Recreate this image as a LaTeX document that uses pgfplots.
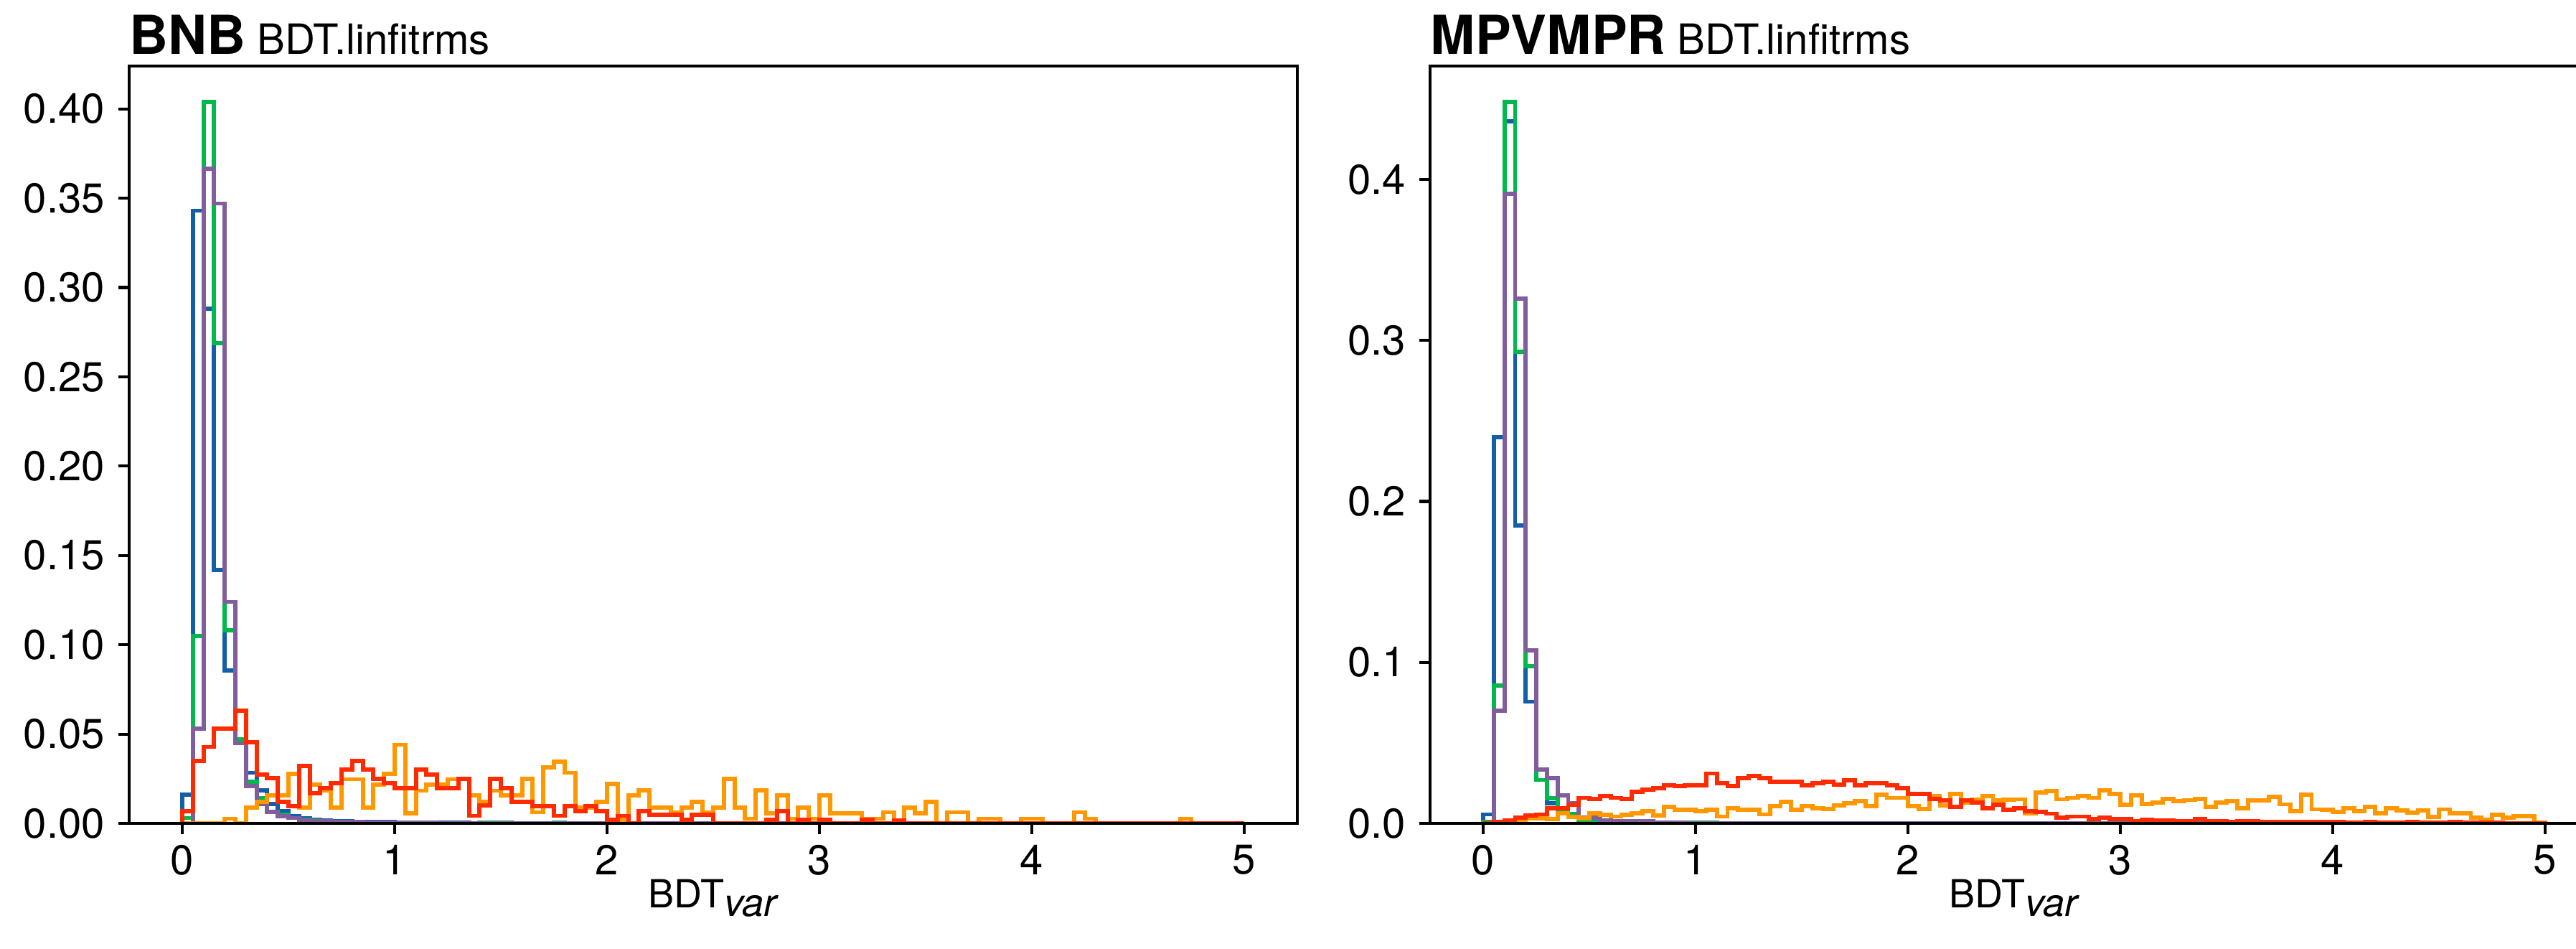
\documentclass[border=0pt]{standalone}
\usepackage{fontspec}
\setmainfont{TeX Gyre Heros}
\usepackage{pgfplots}
\usepackage{pgfplotstable}
\pgfplotsset{compat=1.18}

\definecolor{hBlue}{RGB}{18,95,168}
\definecolor{hGreen}{RGB}{0,184,76}
\definecolor{hPurple}{RGB}{128,94,155}
\definecolor{hOrange}{RGB}{255,152,0}
\definecolor{hRed}{RGB}{255,43,0}

% bin left edge, then normalised counts: b g p o r
\pgfplotstableread{
x b g p o r
0.00 0 0 0 0 0
0.00 0.016 0.003 0 0 0.0068
0.05 0.343 0.105 0.053 0 0.0348
0.10 0.288 0.404 0.3665 0 0.0428
0.15 0.142 0.269 0.347 0 0.0532
0.20 0.0857 0.108 0.124 0.0026 0.0532
0.25 0.047 0.047 0.0448 0 0.063
0.30 0.0283 0.0234 0.021 0.0089 0.0454
0.35 0.0185 0.0142 0.011 0.0122 0.0274
0.40 0.0109 0.0062 0.0065 0.0156 0.0252
0.45 0.0068 0.0048 0.004 0.0156 0.0121
0.50 0.0042 0.003 0.003 0.0277 0.0098
0.55 0.003 0.002 0.0018 0.0089 0.0323
0.60 0.0022 0.0015 0.0014 0.0216 0.0169
0.65 0.0018 0.0012 0.0012 0.0183 0.0196
0.70 0.0014 0.001 0.001 0.0089 0.0226
0.75 0.0012 0.0008 0.0008 0.0247 0.0303
0.80 0.001 0.0007 0.0007 0.0247 0.0348
0.85 0.0009 0.0006 0.0006 0.0089 0.0303
0.90 0.0008 0.0005 0.0005 0.0216 0.025
0.95 0.0007 0.0005 0.0005 0.0277 0.0226
1.00 0.0006 0.0004 0.0004 0.044 0.0196
1.05 0.0005 0.0004 0.0004 0.0055 0.0196
1.10 0.0005 0.0003 0.0003 0.0183 0.030
1.15 0.0004 0.0003 0.0003 0.0216 0.0274
1.20 0.0004 0.0002 0.0002 0.0216 0.0196
1.25 0.0003 0.0002 0.0002 0.0247 0.0196
1.30 0.0003 0.0002 0.0002 0.0247 0.025
1.35 0.0002 0.0002 0.0002 0.0156 0.0042
1.40 0.0002 0.0005 0.0002 0.0122 0.0102
1.45 0.0002 0.0005 0.0001 0.0183 0.025
1.50 0.0001 0.0005 0.0001 0.0156 0.0196
1.55 0.0001 0.0001 0.0001 0.0156 0.0121
1.60 0.0001 0.0001 0.0001 0.025 0.0121
1.65 0.0001 0.0001 0.0001 0.0062 0.0095
1.70 0.0001 0.0001 0 0.0314 0.0095
1.75 0.0001 0.0006 0 0.0346 0.0042
1.80 0.0001 0 0 0.0283 0.0095
1.85 0 0 0 0.0089 0.0068
1.90 0 0 0 0.0089 0.0095
1.95 0 0 0 0.0122 0.0068
2.00 0 0 0 0.022 0.002
2.05 0 0 0 0.002 0.0042
2.10 0 0 0 0.0156 0
2.15 0 0 0 0.0185 0.0068
2.20 0 0 0 0.0089 0.0048
2.25 0 0 0 0.0089 0.0048
2.30 0 0 0 0.0062 0.0048
2.35 0 0 0 0.0089 0.002
2.40 0 0 0 0.0122 0.0048
2.45 0 0 0 0.0062 0.0048
2.50 0 0 0 0.0089 0
2.55 0 0 0 0.025 0
2.60 0 0 0 0.0089 0
2.65 0 0 0 0.0026 0
2.70 0 0 0 0.0185 0
2.75 0 0 0 0.0055 0.002
2.80 0 0 0 0.0156 0.0068
2.85 0 0 0 0.0026 0
2.90 0 0 0 0.0089 0.002
2.95 0 0 0 0.0026 0
3.00 0 0 0 0.0156 0.002
3.05 0 0 0 0.0055 0
3.10 0 0 0 0.0055 0
3.15 0 0 0 0.0055 0
3.20 0 0 0 0.0026 0.002
3.25 0 0 0 0.0026 0
3.30 0 0 0 0.0062 0
3.35 0 0 0 0.0015 0.0015
3.40 0 0 0 0.0089 0
3.45 0 0 0 0.0055 0
3.50 0 0 0 0.0122 0
3.55 0 0 0 0 0
3.60 0 0 0 0.0062 0
3.65 0 0 0 0.0062 0
3.70 0 0 0 0 0
3.75 0 0 0 0.0026 0
3.80 0 0 0 0.0026 0
3.85 0 0 0 0 0
3.90 0 0 0 0 0
3.95 0 0 0 0.0026 0
4.00 0 0 0 0.0026 0
4.05 0 0 0 0 0
4.10 0 0 0 0 0
4.15 0 0 0 0 0
4.20 0 0 0 0.0062 0
4.25 0 0 0 0.0026 0
4.30 0 0 0 0 0
4.35 0 0 0 0 0
4.40 0 0 0 0 0
4.45 0 0 0 0 0
4.50 0 0 0 0 0
4.55 0 0 0 0 0
4.60 0 0 0 0 0
4.65 0 0 0 0 0
4.70 0 0 0 0.0026 0
4.75 0 0 0 0 0
4.80 0 0 0 0 0
4.85 0 0 0 0 0
4.90 0 0 0 0 0
4.95 0 0 0 0 0
5.00 0 0 0 0 0
}\tabBNB

\pgfplotstableread{
x b g p o r
0.00 0 0 0 0 0
0.00 0.0056 0.001 0 0 0
0.05 0.24 0.0856 0.07 0.0003 0.0008
0.10 0.436 0.448 0.391 0.0006 0.002
0.15 0.185 0.293 0.326 0.001 0.0034
0.20 0.0756 0.0975 0.1075 0.003 0.005
0.25 0.027 0.027 0.0336 0.003 0.0056
0.30 0.0125 0.0155 0.028 0.0027 0.0094
0.35 0.008 0.009 0.0175 0.0064 0.0094
0.40 0.005 0.006 0.0123 0.0039 0.0116
0.45 0.0025 0.002 0.0034 0.003 0.0158
0.50 0.0018 0.0015 0.0034 0.0064 0.0153
0.55 0.0014 0.0012 0.002 0.0052 0.0168
0.60 0.0011 0.001 0.0015 0.0042 0.0158
0.65 0.0009 0.0009 0.0015 0.0053 0.0153
0.70 0.0007 0.0008 0.0014 0.0064 0.0198
0.75 0.0006 0.0007 0.0013 0.0074 0.0208
0.80 0.0005 0.0006 0.0006 0.0049 0.0217
0.85 0.0004 0.0005 0.0004 0.0101 0.0235
0.90 0.0003 0.0004 0.0003 0.0083 0.0232
0.95 0.0003 0.0004 0.0002 0.0083 0.0235
1.00 0.0002 0.0003 0.0002 0.0074 0.0235
1.05 0.0002 0.0003 0.0001 0.0083 0.031
1.10 0.0001 0.0002 0.0001 0.0042 0.025
1.15 0.0001 0.0002 0.0001 0.0094 0.0232
1.20 0.0001 0.0001 0 0.0083 0.0282
1.25 0.0001 0.0001 0 0.0083 0.0294
1.30 0 0.0001 0 0.0056 0.0282
1.35 0 0 0 0.0108 0.026
1.40 0 0 0 0.0134 0.026
1.45 0 0 0 0.0086 0.026
1.50 0 0 0 0.0108 0.0238
1.55 0 0 0 0.0094 0.025
1.60 0 0 0 0.0089 0.026
1.65 0 0 0 0.0113 0.0242
1.70 0 0 0 0.0123 0.0267
1.75 0 0 0 0.0138 0.0238
1.80 0 0 0 0.0108 0.025
1.85 0 0 0 0.0178 0.025
1.90 0 0 0 0.0158 0.0235
1.95 0 0 0 0.0158 0.0217
2.00 0 0 0 0.0108 0.0183
2.05 0 0 0 0.0089 0.0183
2.10 0 0 0 0.0168 0.0153
2.15 0 0 0 0.0113 0.0143
2.20 0 0 0 0.0183 0.0101
2.25 0 0 0 0.0128 0.0143
2.30 0 0 0 0.0146 0.0128
2.35 0 0 0 0.0168 0.0094
2.40 0 0 0 0.0143 0.0116
2.45 0 0 0 0.0146 0.0083
2.50 0 0 0 0.0149 0.0094
2.55 0 0 0 0.006 0.0074
2.60 0 0 0 0.019 0.0071
2.65 0 0 0 0.0202 0.006
2.70 0 0 0 0.0149 0.0034
2.75 0 0 0 0.0158 0.0042
2.80 0 0 0 0.0168 0.0042
2.85 0 0 0 0.0158 0.0027
2.90 0 0 0 0.0205 0.0034
2.95 0 0 0 0.0183 0.0027
3.00 0 0 0 0.0116 0.0027
3.05 0 0 0 0.0175 0.0015
3.10 0 0 0 0.0119 0.0024
3.15 0 0 0 0.0128 0.0019
3.20 0 0 0 0.0153 0.0019
3.25 0 0 0 0.0138 0.0012
3.30 0 0 0 0.0145 0.0012
3.35 0 0 0 0.0153 0.0025
3.40 0 0 0 0.0103 0.0012
3.45 0 0 0 0.0129 0.0012
3.50 0 0 0 0.0138 0.001
3.55 0 0 0 0.0092 0.0015
3.60 0 0 0 0.0141 0.0015
3.65 0 0 0 0.0141 0.001
3.70 0 0 0 0.0164 0.001
3.75 0 0 0 0.0118 0.0008
3.80 0 0 0 0.0077 0.001
3.85 0 0 0 0.0179 0.0008
3.90 0 0 0 0.0087 0.0008
3.95 0 0 0 0.0083 0.0008
4.00 0 0 0 0.0072 0.0008
4.05 0 0 0 0.0092 0.0005
4.10 0 0 0 0.0077 0.0005
4.15 0 0 0 0.0103 0.001
4.20 0 0 0 0.0061 0.0005
4.25 0 0 0 0.0092 0.0005
4.30 0 0 0 0.008 0.0005
4.35 0 0 0 0.0067 0.001
4.40 0 0 0 0.008 0.0005
4.45 0 0 0 0.0041 0.0003
4.50 0 0 0 0.0087 0.0003
4.55 0 0 0 0.0064 0.0008
4.60 0 0 0 0.0061 0.0003
4.65 0 0 0 0.0034 0.0003
4.70 0 0 0 0.0021 0.0003
4.75 0 0 0 0.0052 0.0003
4.80 0 0 0 0.0034 0.0002
4.85 0 0 0 0.0046 0.0002
4.90 0 0 0 0.0046 0.0002
4.95 0 0 0 0.0006 0.0001
5.00 0 0 0 0.0006 0.0001
5.00 0 0 0 0 0
}\tabMPV

\pgfplotsset{
  histax/.style={
    scale only axis, width=390.72bp, height=253.2bp,
    xmin=-0.25, xmax=5.25, ymin=0,
    xtick={0,1,2,3,4,5},
    tick pos=left, tick align=outside,
    major tick length=3.5bp,
    every tick/.style={black, line width=1bp},
    axis line style={line width=1bp},
    axis on top,
    /pgf/number format/assume math mode=true,
    ticklabel style={font=\fontsize{14}{16}\selectfont},
    xticklabel style={anchor=north, inner sep=0pt, yshift=-3.5bp},
    yticklabel style={anchor=east, inner sep=0pt, xshift=-4.5bp},
    xlabel={BDT$_{\textit{var}}$},
    xlabel style={font=\fontsize{13}{15}\selectfont, at={(axis description cs:0.5,0)}, anchor=base, yshift=-28.1bp},
  },
  hist/.style={const plot, line width=1.4bp, line join=miter},
}

\begin{document}
\begin{tikzpicture}
\begin{axis}[histax, at={(0bp,0bp)}, anchor=south west,
  ymax=0.424,
  ytick={0,0.05,0.10,0.15,0.20,0.25,0.30,0.35,0.40},
  yticklabel style={/pgf/number format/.cd, fixed, fixed zerofill, precision=2}]
\addplot[hist, hBlue] table[x=x, y=b] {\tabBNB};
\addplot[hist, hGreen] table[x=x, y=g] {\tabBNB};
\addplot[hist, hPurple] table[x=x, y=p] {\tabBNB};
\addplot[hist, hOrange] table[x=x, y=o] {\tabBNB};
\addplot[hist, hRed] table[x=x, y=r] {\tabBNB};
\end{axis}

\begin{axis}[histax, at={(435.12bp,0bp)}, anchor=south west,
  ymax=0.4704,
  ytick={0,0.1,0.2,0.3,0.4},
  yticklabel style={/pgf/number format/.cd, fixed, fixed zerofill, precision=1}]
\addplot[hist, hBlue] table[x=x, y=b] {\tabMPV};
\addplot[hist, hGreen] table[x=x, y=g] {\tabMPV};
\addplot[hist, hPurple] table[x=x, y=p] {\tabMPV};
\addplot[hist, hOrange] table[x=x, y=o] {\tabMPV};
\addplot[hist, hRed] table[x=x, y=r] {\tabMPV};
\end{axis}

\node[anchor=base west, inner sep=0pt] at (0bp,257.04bp)
  {\fontsize{18}{20}\selectfont\bfseries BNB\fontsize{14}{16}\selectfont\mdseries\ BDT.linfitrms};
\node[anchor=base west, inner sep=0pt] at (435.12bp,257.04bp)
  {\fontsize{18}{20}\selectfont\bfseries MPVMPR\fontsize{14}{16}\selectfont\mdseries\ BDT.linfitrms};

\pgfresetboundingbox
\useasboundingbox (-43.2bp,-41.76bp) rectangle (818.4bp,275.28bp);
\end{tikzpicture}
\end{document}
